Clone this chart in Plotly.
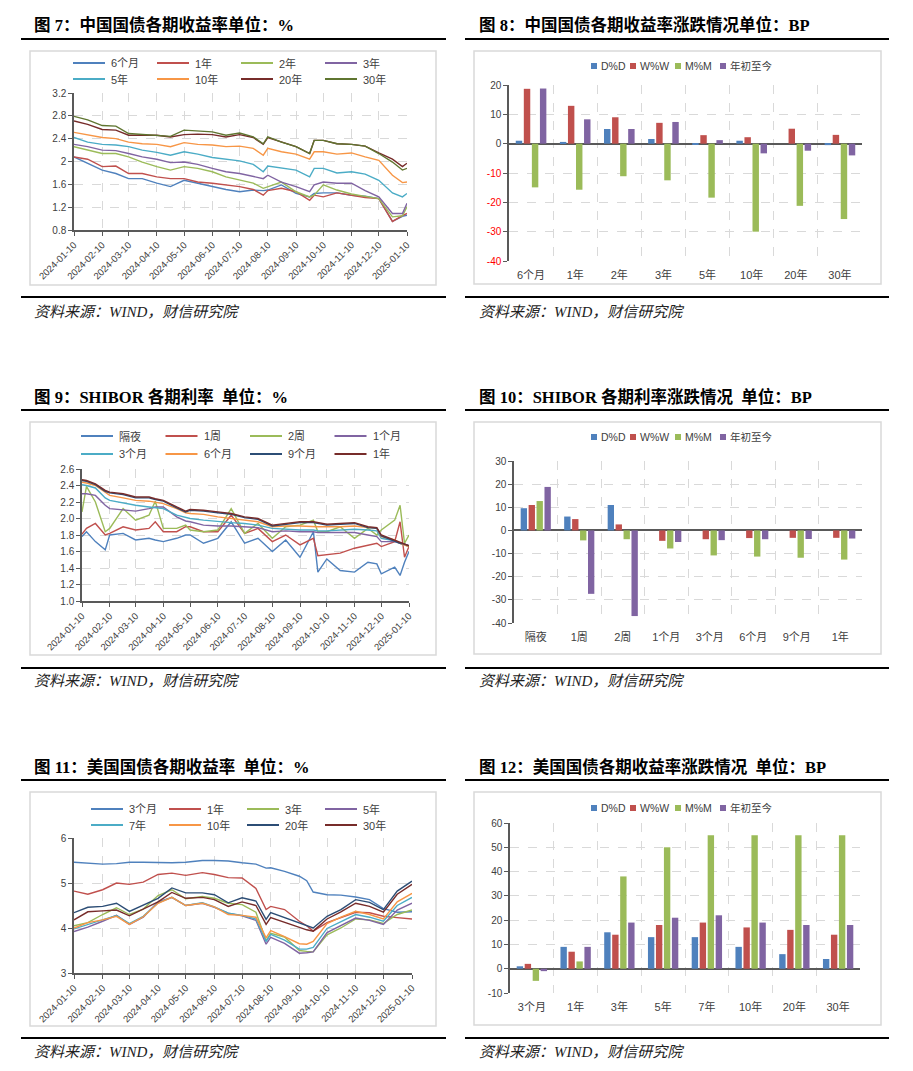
import plotly.graph_objects as go

W, H = 913, 1071
OFF = 8  # 页面 body 默认外边距
FW, FH = W - OFF, H - OFF

# ---------------- 图7 中国国债各期收益率 ----------------
CN_DATES = ["2024-01-10", "2024-01-25", "2024-02-10", "2024-02-25", "2024-03-10", "2024-03-25",
            "2024-04-10", "2024-04-25", "2024-05-10", "2024-05-25", "2024-06-10", "2024-06-25",
            "2024-07-10", "2024-07-25", "2024-08-05", "2024-08-10", "2024-08-25", "2024-09-10",
            "2024-09-25", "2024-09-30", "2024-10-10", "2024-10-25", "2024-11-10", "2024-11-25",
            "2024-12-10", "2024-12-25", "2025-01-05", "2025-01-10"]
CN_NAMES = ["6个月", "1年", "2年", "3年", "5年", "10年", "20年", "30年"]
CN_6M = [2.08, 1.97, 1.85, 1.79, 1.70, 1.70, 1.62, 1.56, 1.67, 1.62, 1.56, 1.51, 1.47, 1.50,
         1.49, 1.50, 1.59, 1.44, 1.38, 1.44, 1.45, 1.45, 1.41, 1.39, 1.35, 0.95, 1.04, 1.06]
CN_1Y = [2.08, 2.04, 1.91, 1.92, 1.79, 1.79, 1.73, 1.70, 1.70, 1.64, 1.62, 1.59, 1.56, 1.51,
         1.41, 1.49, 1.53, 1.47, 1.32, 1.41, 1.38, 1.45, 1.41, 1.37, 1.35, 0.95, 1.05, 1.09]
CN_2Y = [2.26, 2.20, 2.14, 2.14, 2.08, 1.99, 1.91, 1.85, 1.91, 1.88, 1.82, 1.73, 1.67, 1.62,
         1.53, 1.56, 1.64, 1.47, 1.38, 1.41, 1.59, 1.50, 1.43, 1.39, 1.35, 1.03, 1.05, 1.21]
CN_3Y = [2.30, 2.26, 2.20, 2.19, 2.14, 2.08, 2.04, 1.98, 1.99, 1.95, 1.88, 1.82, 1.79, 1.74,
         1.70, 1.76, 1.64, 1.56, 1.47, 1.59, 1.64, 1.62, 1.62, 1.49, 1.38, 1.09, 1.09, 1.27]
CN_5Y = [2.42, 2.34, 2.30, 2.29, 2.26, 2.20, 2.16, 2.11, 2.17, 2.13, 2.07, 2.04, 2.01, 1.95,
         1.82, 1.92, 1.88, 1.85, 1.73, 1.88, 1.88, 1.80, 1.82, 1.78, 1.67, 1.45, 1.38, 1.44]
CN_10Y = [2.51, 2.46, 2.42, 2.40, 2.34, 2.31, 2.30, 2.26, 2.33, 2.30, 2.29, 2.26, 2.27, 2.23,
          2.11, 2.23, 2.17, 2.13, 2.04, 2.17, 2.17, 2.13, 2.15, 2.08, 2.02, 1.76, 1.63, 1.64]
CN_20Y = [2.71, 2.65, 2.56, 2.55, 2.46, 2.46, 2.46, 2.43, 2.47, 2.48, 2.47, 2.43, 2.47, 2.42,
          2.30, 2.42, 2.34, 2.26, 2.14, 2.37, 2.37, 2.31, 2.30, 2.27, 2.15, 2.04, 1.91, 1.97]
CN_30Y = [2.79, 2.73, 2.63, 2.62, 2.49, 2.47, 2.46, 2.44, 2.55, 2.54, 2.52, 2.46, 2.50, 2.43,
          2.31, 2.43, 2.34, 2.26, 2.14, 2.37, 2.37, 2.31, 2.30, 2.27, 2.14, 1.99, 1.85, 1.88]

# ---------------- 图8 中国国债涨跌 ----------------
CN_BAR_CATS = ["6个月", "1年", "2年", "3年", "5年", "10年", "20年", "30年"]
CN_DD = [1.0, 0.6, 5.0, 1.6, -0.2, 1.0, 0.0, -0.5]
CN_WW = [18.7, 12.9, 9.0, 7.1, 2.9, 2.2, 5.1, 3.0]
CN_MM = [-14.9, -15.7, -11.1, -12.5, -18.4, -30.0, -21.2, -25.7]
CN_YTD = [18.8, 8.3, 5.0, 7.4, 1.2, -3.3, -2.4, -4.0]

# ---------------- 图9 SHIBOR 各期利率 ----------------
SH_DATES = ["2024-01-10", "2024-01-15", "2024-01-25", "2024-02-05", "2024-02-10", "2024-02-25",
            "2024-03-10", "2024-03-25", "2024-04-01", "2024-04-10", "2024-04-25", "2024-05-05",
            "2024-05-10", "2024-05-25", "2024-06-10", "2024-06-25", "2024-07-10", "2024-07-25",
            "2024-08-10", "2024-08-25", "2024-09-10", "2024-09-25", "2024-09-30", "2024-10-10",
            "2024-10-25", "2024-11-10", "2024-11-25", "2024-12-05", "2024-12-10", "2024-12-25",
            "2024-12-31", "2025-01-05", "2025-01-10"]
SH_NAMES = ["隔夜", "1周", "2周", "1个月", "3个月", "6个月", "9个月", "1年"]
SH_ON = [1.78, 1.84, 1.72, 1.62, 1.80, 1.82, 1.74, 1.76, 1.74, 1.72, 1.76, 1.80, 1.80, 1.70, 1.76, 1.96, 1.70,
         1.76, 1.60, 1.74, 1.53, 1.84, 1.35, 1.51, 1.37, 1.35, 1.47, 1.45, 1.33, 1.41, 1.31, 1.47, 1.60]
SH_1W = [1.81, 1.88, 1.94, 1.80, 1.82, 1.90, 1.86, 1.88, 1.96, 1.84, 1.84, 1.90, 1.90, 1.84, 1.84, 2.04, 1.82,
         1.88, 1.72, 1.80, 1.68, 1.76, 1.55, 1.56, 1.58, 1.64, 1.68, 1.70, 1.66, 1.72, 1.96, 1.53, 1.66]
SH_2W = [2.08, 2.39, 2.20, 1.84, 1.88, 2.12, 1.98, 2.04, 2.21, 1.88, 1.88, 1.92, 1.86, 1.84, 1.86, 2.12, 1.82,
         1.94, 1.76, 1.90, 1.92, 1.98, 1.84, 1.84, 1.90, 1.76, 1.88, 1.80, 1.86, 1.98, 2.16, 1.70, 1.80]
SH_1M = [2.30, 2.30, 2.28, 2.16, 2.12, 2.10, 2.09, 2.12, 2.14, 2.14, 2.02, 1.97, 1.96, 1.92, 1.91, 1.91, 1.90,
         1.89, 1.84, 1.85, 1.84, 1.84, 1.83, 1.83, 1.83, 1.83, 1.80, 1.78, 1.72, 1.72, 1.70, 1.69, 1.67]
SH_3M = [2.41, 2.40, 2.37, 2.25, 2.22, 2.19, 2.16, 2.14, 2.13, 2.12, 2.04, 2.01, 2.00, 1.98, 1.96, 1.95, 1.94,
         1.92, 1.88, 1.87, 1.86, 1.86, 1.85, 1.85, 1.86, 1.87, 1.86, 1.85, 1.76, 1.73, 1.70, 1.68, 1.66]
SH_6M = [2.44, 2.43, 2.40, 2.31, 2.28, 2.25, 2.22, 2.21, 2.20, 2.18, 2.12, 2.07, 2.06, 2.05, 2.02, 2.00, 1.98,
         1.96, 1.90, 1.91, 1.91, 1.90, 1.90, 1.90, 1.90, 1.91, 1.89, 1.88, 1.78, 1.74, 1.70, 1.68, 1.66]
SH_9M = [2.46, 2.45, 2.41, 2.33, 2.31, 2.29, 2.25, 2.25, 2.23, 2.21, 2.13, 2.08, 2.10, 2.09, 2.07, 2.05, 2.01,
         1.99, 1.91, 1.93, 1.95, 1.95, 1.94, 1.92, 1.93, 1.94, 1.89, 1.88, 1.79, 1.73, 1.70, 1.69, 1.67]
SH_1Y = [2.47, 2.46, 2.42, 2.34, 2.32, 2.30, 2.26, 2.26, 2.24, 2.22, 2.14, 2.09, 2.11, 2.10, 2.08, 2.06, 2.02,
         2.00, 1.92, 1.94, 1.96, 1.96, 1.95, 1.93, 1.94, 1.95, 1.90, 1.89, 1.80, 1.74, 1.71, 1.69, 1.67]

# ---------------- 图10 SHIBOR 涨跌 ----------------
SH_BAR_CATS = ["隔夜", "1周", "2周", "1个月", "3个月", "6个月", "9个月", "1年"]
SH_DD = [9.6, 6.0, 11.0, 0.0, 0.0, 0.0, 0.0, 0.0]
SH_WW = [11.0, 4.9, 2.6, -4.5, -3.8, -3.3, -3.2, -3.2]
SH_MM = [12.7, -4.3, -3.8, -7.8, -10.8, -11.3, -11.8, -12.6]
SH_YTD = [18.8, -27.4, -37.0, -5.0, -4.2, -3.8, -3.7, -3.5]

# ---------------- 图11 美国国债各期收益率 ----------------
US_DATES = ["2024-01-10", "2024-01-25", "2024-02-10", "2024-02-25", "2024-03-10", "2024-03-25",
            "2024-04-10", "2024-04-25", "2024-05-10", "2024-05-28", "2024-06-10", "2024-06-25",
            "2024-07-10", "2024-07-25", "2024-08-05", "2024-08-10", "2024-08-25", "2024-09-10",
            "2024-09-18", "2024-09-25", "2024-10-10", "2024-10-25", "2024-11-10", "2024-11-25",
            "2024-12-10", "2024-12-25", "2025-01-10"]
US_NAMES = ["3个月", "1年", "3年", "5年", "7年", "10年", "20年", "30年"]
US_3M = [5.46, 5.44, 5.42, 5.43, 5.46, 5.46, 5.45, 5.45, 5.46, 5.50, 5.50, 5.49, 5.45, 5.42,
         5.33, 5.34, 5.26, 5.15, 5.05, 4.80, 4.74, 4.73, 4.69, 4.63, 4.43, 4.35, 4.36]
US_1Y = [4.82, 4.75, 4.85, 5.00, 4.97, 5.02, 5.19, 5.22, 5.17, 5.23, 5.19, 5.12, 5.11, 4.88,
         4.41, 4.48, 4.41, 4.15, 4.05, 3.93, 4.12, 4.23, 4.35, 4.34, 4.26, 4.23, 4.20]
US_3Y = [4.05, 4.12, 4.30, 4.45, 4.30, 4.42, 4.72, 4.85, 4.65, 4.70, 4.66, 4.55, 4.52, 4.35,
         3.72, 3.88, 3.80, 3.50, 3.48, 3.47, 3.85, 4.00, 4.20, 4.18, 4.10, 4.30, 4.40]
US_5Y = [3.92, 4.02, 4.15, 4.28, 4.08, 4.24, 4.58, 4.68, 4.50, 4.55, 4.46, 4.33, 4.27, 4.17,
         3.64, 3.79, 3.66, 3.44, 3.45, 3.47, 3.90, 4.05, 4.22, 4.17, 4.08, 4.40, 4.55]
US_7Y = [3.98, 4.08, 4.18, 4.28, 4.10, 4.26, 4.56, 4.68, 4.50, 4.56, 4.47, 4.33, 4.28, 4.20,
         3.70, 3.86, 3.73, 3.53, 3.53, 3.57, 3.99, 4.14, 4.30, 4.24, 4.15, 4.50, 4.68]
US_10Y = [4.00, 4.12, 4.18, 4.26, 4.08, 4.25, 4.55, 4.68, 4.50, 4.55, 4.47, 4.30, 4.28, 4.24,
          3.78, 3.94, 3.81, 3.65, 3.64, 3.70, 4.10, 4.24, 4.37, 4.30, 4.20, 4.58, 4.77]
US_20Y = [4.34, 4.46, 4.48, 4.55, 4.37, 4.51, 4.66, 4.89, 4.78, 4.78, 4.74, 4.56, 4.67, 4.60,
          4.19, 4.34, 4.23, 4.12, 4.05, 4.00, 4.26, 4.41, 4.63, 4.57, 4.41, 4.82, 5.04]
US_30Y = [4.18, 4.36, 4.38, 4.40, 4.27, 4.42, 4.58, 4.79, 4.66, 4.68, 4.63, 4.48, 4.58, 4.50,
          4.08, 4.23, 4.12, 4.02, 3.96, 3.93, 4.20, 4.36, 4.55, 4.48, 4.35, 4.75, 4.97]

# ---------------- 图12 美国国债涨跌 ----------------
US_BAR_CATS = ["3个月", "1年", "3年", "5年", "7年", "10年", "20年", "30年"]
US_DD = [1, 9, 15, 13, 13, 9, 6, 4]
US_WW = [2, 7, 14, 18, 19, 17, 16, 14]
US_MM = [-5, 3, 38, 50, 55, 55, 55, 55]
US_YTD = [-1, 9, 19, 21, 22, 19, 18, 18]

MONTH_TICKS = ["2024-01-10", "2024-02-10", "2024-03-10", "2024-04-10", "2024-05-10", "2024-06-10",
               "2024-07-10", "2024-08-10", "2024-09-10", "2024-10-10", "2024-11-10", "2024-12-10",
               "2025-01-10"]
BAR_NAMES = ["D%D", "W%W", "M%M", "年初至今"]

C8 = ["#4F81BD", "#C0504D", "#9BBB59", "#8064A2", "#4BACC6", "#F79646", "#772C2A", "#5F7530"]
C9 = ["#4F81BD", "#C0504D", "#9BBB59", "#8064A2", "#4BACC6", "#F79646", "#2C4D75", "#772C2A"]
BAR_COLORS = ["#4F81BD", "#C0504D", "#9BBB59", "#8064A2"]

SANS = "Liberation Sans, Noto Sans CJK SC, sans-serif"
SERIF = "Liberation Serif, Noto Sans CJK SC, serif"
GRID = "#d9d9d9"
AXIS = "#595959"
TXT = "#404040"

fig = go.Figure()
shapes, annots = [], []


def fx(p):
    return (p - OFF) / FW


def fy(p):
    return 1 - (p - OFF) / FH


def frame(left, title, ytitle, yrule, ybox0, ybox1, ybot, ysrc):
    # 标题、上下粗线、图框、资料来源
    r0, r1 = (21, 446) if left else (465, 889)
    b0, b1 = (30, 436) if left else (474, 881)
    tx = 32 if left else 477
    annots.append(dict(x=fx(tx), y=fy(ytitle), xref="paper", yref="paper", text="<b>" + title + "</b>",
                       showarrow=False, xanchor="left", yanchor="middle",
                       font=dict(family=SERIF, size=16.5, color="#000")))
    for yy in (yrule, ybot):
        shapes.append(dict(type="line", xref="paper", yref="paper", x0=fx(r0), x1=fx(r1), y0=fy(yy), y1=fy(yy),
                           line=dict(color="#000", width=2.2)))
    shapes.append(dict(type="rect", xref="paper", yref="paper", x0=fx(b0), x1=fx(b1), y0=fy(ybox1), y1=fy(ybox0),
                       line=dict(color="#d9d9d9", width=1.5), fillcolor="rgba(0,0,0,0)", layer="below"))
    annots.append(dict(x=fx(tx), y=fy(ysrc), xref="paper", yref="paper", text="资料来源：WIND，财信研究院",
                       showarrow=False, xanchor="left", yanchor="middle",
                       font=dict(family=SERIF, size=15, color="#222", style="italic")))


def line_panel(n, dates, series, names, colors, box, yrange, dtick, ytickformat, leg):
    ax = "" if n == 1 else str(n)
    for ys, name, col in zip(series, names, colors):
        fig.add_trace(go.Scatter(x=dates, y=ys, name=name, mode="lines", showlegend=False,
                                 line=dict(color=col, width=1.4), xaxis="x" + ax, yaxis="y" + ax))
    x0, x1, y0, y1 = box
    fig.layout["xaxis" + ax] = dict(domain=[fx(x0), fx(x1)], anchor="y" + ax, type="date", automargin=False,
                                    range=[MONTH_TICKS[0], MONTH_TICKS[-1]], tickvals=MONTH_TICKS,
                                    tickformat="%Y-%m-%d", tickangle=-45, showgrid=True, gridcolor=GRID,
                                    griddash="dash", showline=True, linecolor=AXIS, linewidth=1.5,
                                    ticks="outside", ticklen=4, tickcolor=AXIS,
                                    tickfont=dict(family=SANS, size=9.5, color=TXT))
    fig.layout["yaxis" + ax] = dict(domain=[fy(y1), fy(y0)], anchor="x" + ax, range=yrange, dtick=dtick,
                                    tick0=yrange[0], tickformat=ytickformat, showgrid=True, gridcolor=GRID,
                                    griddash="dash", zeroline=False, showline=True, linecolor=AXIS, linewidth=1.5,
                                    ticks="outside", ticklen=4, tickcolor=AXIS, automargin=False,
                                    tickfont=dict(family=SANS, size=10, color=TXT))
    lx0, step, rows = leg
    for i, (name, col) in enumerate(zip(names, colors)):
        lx = lx0 + (i % 4) * step
        ly = rows[i // 4]
        shapes.append(dict(type="line", xref="paper", yref="paper", x0=fx(lx), x1=fx(lx + 32), y0=fy(ly), y1=fy(ly),
                           line=dict(color=col, width=2)))
        annots.append(dict(x=fx(lx + 36), y=fy(ly), xref="paper", yref="paper", text=name, showarrow=False,
                           xanchor="left", yanchor="middle", font=dict(family=SANS, size=11, color=TXT)))


def bar_panel(n, cats, series, box, yrange, dtick, legy, red_neg=False):
    ax = str(n)
    for ys, name, col in zip(series, BAR_NAMES, BAR_COLORS):
        fig.add_trace(go.Bar(x=cats, y=ys, name=name, marker=dict(color=col, line=dict(width=0)),
                             showlegend=False, xaxis="x" + ax, yaxis="y" + ax))
    x0, x1, y0, y1 = box
    fig.layout["xaxis" + ax] = dict(domain=[fx(x0), fx(x1)], anchor="y" + ax, type="category", automargin=False,
                                    tickson="boundaries", showgrid=True, gridcolor=GRID, griddash="dash",
                                    showline=False, ticks="", ticklabelstandoff=6,
                                    tickfont=dict(family=SANS, size=11, color=TXT))
    vals = list(range(yrange[0], yrange[1] + 1, dtick))
    texts = [('<span style="color:#ff0000">%d</span>' % v) if (red_neg and v < 0) else str(v) for v in vals]
    fig.layout["yaxis" + ax] = dict(domain=[fy(y1), fy(y0)], anchor="x" + ax, range=yrange, tickvals=vals,
                                    ticktext=texts, showgrid=True, gridcolor=GRID, griddash="dash",
                                    zeroline=True, zerolinecolor=AXIS, zerolinewidth=1.5, automargin=False,
                                    showline=True, linecolor=AXIS, linewidth=1.5, ticks="outside", ticklen=4,
                                    tickcolor=AXIS, tickfont=dict(family=SANS, size=10, color=TXT))
    for sx, name, col in zip([591, 630, 675, 720], BAR_NAMES, BAR_COLORS):
        shapes.append(dict(type="rect", xref="paper", yref="paper", x0=fx(sx), x1=fx(sx + 6),
                           y0=fy(legy + 3), y1=fy(legy - 3), fillcolor=col, line=dict(width=0)))
        annots.append(dict(x=fx(sx + 8), y=fy(legy), xref="paper", yref="paper", text=name, showarrow=False,
                           xanchor="left", yanchor="middle", font=dict(family=SANS, size=10.5, color=TXT)))


# 第一行
frame(True, "图 7：中国国债各期收益率单位：%", 25, 39, 51, 285, 297, 312)
line_panel(1, CN_DATES, [CN_6M, CN_1Y, CN_2Y, CN_3Y, CN_5Y, CN_10Y, CN_20Y, CN_30Y], CN_NAMES, C8,
           (74, 407, 93, 230), [0.8, 3.2], 0.4, None, (73, 84, (63, 79)))
frame(False, "图 8：中国国债各期收益率涨跌情况单位：BP", 25, 39, 51, 284, 297, 312)
bar_panel(2, CN_BAR_CATS, [CN_DD, CN_WW, CN_MM, CN_YTD], (509, 862, 85, 261), [-40, 20], 10, 66, red_neg=True)

# 第二行
frame(True, "图 9：SHIBOR 各期利率  单位：%", 397, 410, 422, 655, 668, 681)
line_panel(3, SH_DATES, [SH_ON, SH_1W, SH_2W, SH_1M, SH_3M, SH_6M, SH_9M, SH_1Y], SH_NAMES, C9,
           (82, 409, 469, 601), [1.0, 2.6], 0.2, ".1f", (81, 84.5, (436, 454)))
frame(False, "图 10：SHIBOR 各期利率涨跌情况  单位：BP", 397, 410, 422, 654, 668, 681)
bar_panel(4, SH_BAR_CATS, [SH_DD, SH_WW, SH_MM, SH_YTD], (514, 862, 461, 623), [-40, 30], 10, 437)

# 第三行
frame(True, "图 11：美国国债各期收益率  单位：%", 767, 780, 792, 1026, 1038, 1052)
line_panel(5, US_DATES, [US_3M, US_1Y, US_3Y, US_5Y, US_7Y, US_10Y, US_20Y, US_30Y], US_NAMES, C9,
           (74, 412, 838, 973), [3, 6], 1, None, (91, 78, (809, 825)))
frame(False, "图 12：美国国债各期收益率涨跌情况  单位：BP", 767, 780, 792, 1025, 1038, 1052)
bar_panel(6, US_BAR_CATS, [US_DD, US_WW, US_MM, US_YTD], (510, 860, 823, 993), [-10, 60], 10, 808)

fig.update_layout(width=FW, height=FH, autosize=False, margin=dict(l=0, r=0, t=0, b=0),
                  paper_bgcolor="white", plot_bgcolor="white", barmode="group", bargap=0.27,
                  bargroupgap=0.2, font=dict(family=SANS, color=TXT), shapes=shapes, annotations=annots)

fig.write_html("out.html")
